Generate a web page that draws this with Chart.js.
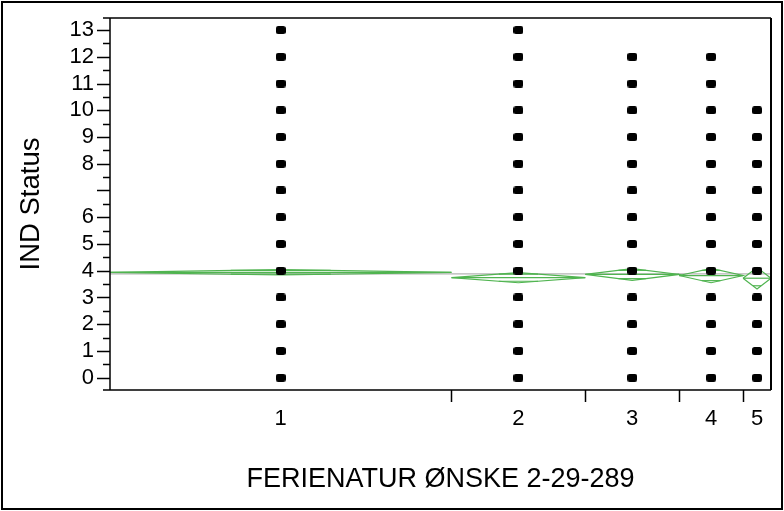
<!DOCTYPE html>
<html>
<head>
<meta charset="utf-8">
<script src="https://cdn.jsdelivr.net/npm/chart.js@4/dist/chart.umd.min.js"></script>
<style>
  html, body { margin: 0; padding: 0; background: #fff; }
  #wrap { width: 784px; height: 511px; position: relative; }
</style>
</head>
<body>
<div id="wrap"><canvas id="oneway" width="784" height="511"></canvas></div>
<script>
// ---- data ----
const groupNames  = ['1', '2', '3', '4', '5'];
// estimated group sizes (JMP widens each group by its n)
const groupCounts = [171, 67, 47, 32, 14];
// distinct response values seen in each group
const groupValues = [
    [0, 1, 2, 3, 4, 5, 6, 7, 8, 9, 10, 11, 12, 13],
    [0, 1, 2, 3, 4, 5, 6, 7, 8, 9, 10, 11, 12, 13],
    [0, 1, 2, 3, 4, 5, 6, 7, 8, 9, 10, 11, 12],
    [0, 1, 2, 3, 4, 5, 6, 7, 8, 9, 10, 11, 12],
    [0, 1, 2, 3, 4, 5, 6, 7, 8, 9, 10]
];
// means diamonds: group mean and 95% CI half-width
const groupMeans = [3.94, 3.74, 3.86, 3.82, 3.72];
const groupCI    = [0.10, 0.19, 0.22, 0.27, 0.40];
const grandMean  = 3.88;
const yTickLabels = ['0', '1', '2', '3', '4', '5', '6', '', '8', '9', '10', '11', '12', '13'];

const GREEN = 'rgb(80,180,80)';
const FONT = '"Liberation Sans", Arial, sans-serif';

// cumulative edges of each group on the x scale
const edges = [0];
groupCounts.forEach(n => edges.push(edges[edges.length - 1] + n));
const total = edges[edges.length - 1];
const centers = groupCounts.map((n, i) => edges[i] + n / 2);

// rounded-rect marker, wider than tall like the original
function makeMarker() {
    const c = document.createElement('canvas');
    c.width = 10; c.height = 8;
    const g = c.getContext('2d');
    g.fillStyle = '#000';
    g.beginPath();
    g.roundRect(0, 0, 10, 8, 2.5);
    g.fill();
    return c;
}

let datasets = [];

// raw points
let pts = [];
groupValues.forEach((vals, i) => {
    vals.forEach(v => pts.push({ x: centers[i], y: v }));
});
datasets.push({
    data: pts,
    pointStyle: makeMarker(),
    pointRadius: 5,
    showLine: false,
    order: 0
});

// grand mean line
datasets.push({
    data: [{ x: 0, y: grandMean }, { x: total, y: grandMean }],
    borderColor: '#b4b4b4',
    borderWidth: 1.2,
    showLine: true,
    pointRadius: 0,
    order: 3
});

// means diamonds + overlap marks
groupCounts.forEach((n, i) => {
    const x0 = edges[i], x1 = edges[i + 1], xc = centers[i];
    const m = groupMeans[i], ci = groupCI[i];
    const line = (data) => ({
        data, borderColor: GREEN, borderWidth: 1.2, showLine: true,
        pointRadius: 0, order: 1
    });
    datasets.push(line([
        { x: x0, y: m }, { x: xc, y: m + ci }, { x: x1, y: m },
        { x: xc, y: m - ci }, { x: x0, y: m }
    ]));
    datasets.push(line([{ x: x0, y: m }, { x: x1, y: m }]));
    const h = ci / Math.SQRT2;
    const half = (n / 2) * (1 - h / ci);
    datasets.push(line([{ x: xc - half, y: m + h }, { x: xc + half, y: m + h }]));
    datasets.push(line([{ x: xc - half, y: m - h }, { x: xc + half, y: m - h }]));
});

// frame, ticks and outer border
const framePlugin = {
    id: 'frame',
    afterDraw(chart) {
        const ctx = chart.ctx;
        const { left, top, right, bottom } = chart.chartArea;
        const ys = chart.scales.y, xs = chart.scales.x;
        ctx.save();
        ctx.strokeStyle = '#000';
        ctx.lineWidth = 2;
        ctx.strokeRect(2, 2, chart.width - 4, chart.height - 4);

        ctx.lineWidth = 1.5;
        ctx.beginPath();
        ctx.moveTo(left - 7, top); ctx.lineTo(right, top);
        ctx.moveTo(left - 7, bottom); ctx.lineTo(right, bottom);
        ctx.moveTo(left, top); ctx.lineTo(left, bottom);
        ctx.stroke();
        ctx.lineWidth = 2;
        ctx.beginPath();
        ctx.moveTo(right, top); ctx.lineTo(right, bottom);
        ctx.stroke();

        ctx.lineWidth = 1.5;
        ctx.beginPath();
        for (let v = 0; v <= 13; v += 0.5) {
            const y = Math.round(ys.getPixelForValue(v)) + 0.5;
            const len = Number.isInteger(v) ? 13 : 7;
            ctx.moveTo(left - len, y); ctx.lineTo(left, y);
        }
        for (let i = 1; i < edges.length - 1; i++) {
            const x = Math.round(xs.getPixelForValue(edges[i])) + 0.5;
            ctx.moveTo(x, bottom); ctx.lineTo(x, bottom + 12);
        }
        ctx.stroke();
        ctx.restore();
    }
};

new Chart(document.getElementById('oneway').getContext('2d'), {
    type: 'scatter',
    data: { datasets },
    options: {
        responsive: false,
        animation: false,
        devicePixelRatio: 1,
        layout: { padding: { top: 18, right: 13, left: 0, bottom: 0 } },
        plugins: { legend: { display: false }, tooltip: { enabled: false } },
        scales: {
            x: {
                type: 'linear',
                min: 0,
                max: total,
                afterBuildTicks: (s) => { s.ticks = centers.map(v => ({ value: v })); },
                afterFit: (s) => { s.height = 121; s.paddingLeft = 0; s.paddingRight = 0; },
                grid: { display: false },
                border: { display: false },
                ticks: {
                    color: '#000',
                    font: { family: FONT, size: 22 },
                    padding: 8,
                    maxRotation: 0,
                    autoSkip: false,
                    callback: (v, i) => groupNames[i]
                },
                title: {
                    display: true,
                    text: 'FERIENATUR ØNSKE 2-29-289',
                    color: '#000',
                    font: { family: FONT, size: 27 },
                    padding: { top: 0, bottom: 15 }
                }
            },
            y: {
                min: -0.46,
                max: 13.45,
                afterBuildTicks: (s) => { s.ticks = yTickLabels.map((t, i) => ({ value: i })); },
                afterFit: (s) => { s.width = 110; s.paddingTop = 0; s.paddingBottom = 0; },
                grid: { display: false },
                border: { display: false },
                ticks: {
                    color: '#000',
                    font: { family: FONT, size: 22 },
                    padding: 8,
                    autoSkip: false,
                    callback: (v, i) => yTickLabels[i]
                },
                title: {
                    display: true,
                    text: 'IND Status',
                    color: '#000',
                    font: { family: FONT, size: 27.5 },
                    padding: { top: 15, bottom: 0 }
                }
            }
        }
    },
    plugins: [framePlugin]
});
</script>
</body>
</html>
